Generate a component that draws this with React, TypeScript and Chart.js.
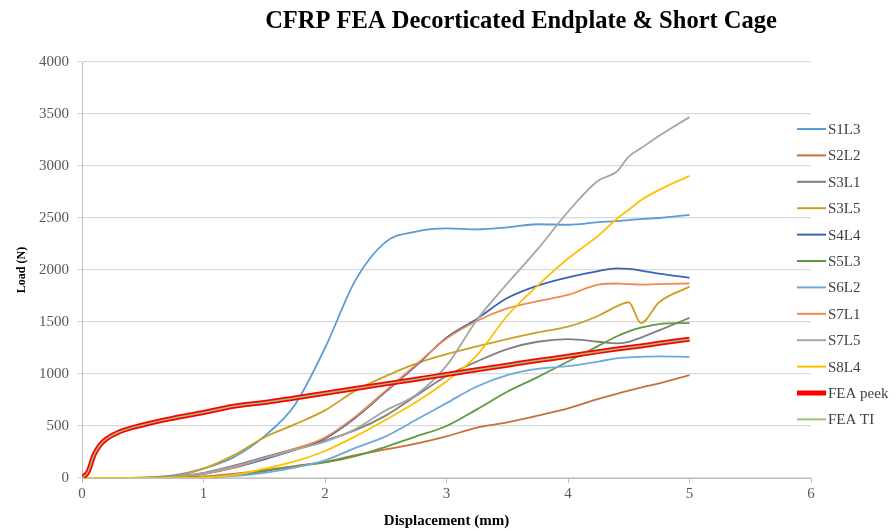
import React, { useEffect, useRef } from "react";
import { Chart, registerables } from "chart.js";
Chart.register(...registerables);

const TITLE = "CFRP FEA Decorticated Endplate & Short Cage";
const X_TITLE = "Displacement (mm)";
const Y_TITLE = "Load (N)";

const displacement = [0, 0.05, 0.1, 0.15, 0.2, 0.3, 0.5, 0.75, 1, 1.25, 1.5, 1.75, 2, 2.25, 2.5, 2.75, 3, 3.25, 3.5, 3.75, 4, 4.25, 4.4, 4.5, 4.6, 4.75, 5];

const seriesNames = ["S1L3", "S2L2", "S3L1", "S3L5", "S4L4", "S5L3", "S6L2", "S7L1", "S7L5", "S8L4", "FEA peek", "FEA TI"];

const s1l3 = [0, 0, 0, 0, 0, 0, 5, 25, 90, 200, 400, 700, 1250, 1900, 2270, 2370, 2400, 2390, 2410, 2440, 2435, 2460, 2470, 2480, 2490, 2500, 2530];
const s2l2 = [0, 0, 0, 0, 0, 0, 0, 5, 15, 40, 75, 115, 155, 220, 275, 330, 400, 485, 535, 600, 670, 760, 810, 840, 870, 910, 990];
const s3l1 = [0, 0, 0, 0, 0, 0, 0, 15, 50, 120, 200, 280, 360, 460, 600, 790, 980, 1120, 1240, 1310, 1335, 1310, 1295, 1310, 1350, 1420, 1540];
const s3l5 = [0, 0, 0, 0, 0, 0, 0, 15, 90, 220, 390, 515, 650, 840, 980, 1100, 1190, 1265, 1335, 1400, 1455, 1560, 1650, 1690, 1490, 1690, 1840];
const s4l4 = [0, 0, 0, 0, 0, 0, 0, 10, 40, 100, 180, 270, 380, 580, 830, 1080, 1350, 1530, 1730, 1850, 1930, 1990, 2015, 2010, 1995, 1965, 1925];
const s5l3 = [0, 0, 0, 0, 0, 0, 0, 2, 10, 30, 65, 110, 150, 210, 300, 400, 500, 660, 830, 970, 1120, 1270, 1360, 1410, 1445, 1480, 1490];
const s6l2 = [0, 0, 0, 0, 0, 0, 0, 0, 5, 20, 50, 100, 170, 290, 400, 560, 720, 880, 990, 1050, 1075, 1120, 1150, 1160, 1165, 1170, 1165];
const s7l1 = [0, 0, 0, 0, 0, 0, 0, 10, 40, 100, 190, 280, 390, 590, 840, 1090, 1340, 1510, 1630, 1700, 1760, 1860, 1870, 1865, 1860, 1865, 1870];
const s7l5 = [0, 0, 0, 0, 0, 0, 0, 10, 45, 110, 190, 270, 350, 470, 650, 800, 1080, 1520, 1870, 2200, 2560, 2860, 2945, 3090, 3170, 3290, 3470];
const s8l4 = [0, 0, 0, 0, 0, 0, 0, 0, 5, 30, 90, 160, 260, 400, 560, 730, 930, 1180, 1560, 1850, 2110, 2330, 2490, 2580, 2670, 2770, 2905];
const feaPeek = [0, 60, 225, 320, 375, 440, 510, 575, 630, 690, 725, 770, 815, 860, 905, 950, 995, 1040, 1085, 1130, 1170, 1215, 1240, 1255, 1270, 1295, 1335];
const feaTi = [0, 60, 225, 320, 375, 440, 510, 575, 630, 690, 725, 770, 815, 860, 905, 950, 995, 1040, 1085, 1130, 1170, 1215, 1240, 1255, 1270, 1295, 1335];

const seriesValues = [s1l3, s2l2, s3l1, s3l5, s4l4, s5l3, s6l2, s7l1, s7l5, s8l4, feaPeek, feaTi];

const yTicks = [0, 500, 1000, 1500, 2000, 2500, 3000, 3500, 4000];
const xTicks = [0, 1, 2, 3, 4, 5, 6];

// styles
const lineColors = ["#5B9BD5", "#C8703A", "#7F7F7F", "#C9A020", "#3A62B0", "#5E9A3F", "#6FA8DC", "#F08A50", "#A5A5A5", "#FFC000", "#FF0000", "#9BC27A"];
const lineWidths = [1.8, 1.8, 1.8, 1.8, 1.8, 1.8, 1.8, 1.8, 1.8, 1.8, 5, 1.5];
const SERIF = '"Liberation Serif", "Times New Roman", serif';

const overlayPlugin = {
  id: "overlay",
  afterDraw(chart: any) {
    const ctx = chart.ctx;
    const area = chart.chartArea;
    ctx.save();
    ctx.fillStyle = "#000";
    ctx.font = `bold 24.5px ${SERIF}`;
    ctx.textAlign = "center";
    ctx.textBaseline = "middle";
    ctx.fillText(TITLE, area.right - 290, 22);

    const x0 = area.right - 14;
    const y0 = area.top + 67;
    const step = 26.4;
    ctx.font = `15px ${SERIF}`;
    ctx.textAlign = "left";
    seriesNames.forEach((name, i) => {
      const y = y0 + i * step;
      ctx.strokeStyle = lineColors[i];
      ctx.lineWidth = i === 10 ? 5 : 2;
      ctx.lineCap = "butt";
      ctx.beginPath();
      ctx.moveTo(x0, y);
      ctx.lineTo(x0 + 29, y);
      ctx.stroke();
      ctx.fillStyle = "#404040";
      ctx.fillText(name, x0 + 31, y + 1);
    });
    ctx.restore();
  },
};

export default function App() {
  const ref = useRef<HTMLCanvasElement | null>(null);
  useEffect(() => {
    if (!ref.current) return;
    const datasets = seriesNames.map((name, i) => ({
      label: name,
      data: displacement.map((x, j) => ({ x, y: seriesValues[i][j] })),
      borderColor: lineColors[i],
      backgroundColor: lineColors[i],
      borderWidth: lineWidths[i],
      pointRadius: 0,
      fill: false,
      cubicInterpolationMode: "monotone" as const,
      order: seriesNames.length - i,
    }));
    const chart = new Chart(ref.current, {
      type: "line",
      data: { datasets },
      options: {
        responsive: true,
        maintainAspectRatio: false,
        animation: false,
        layout: { padding: { top: 62, right: 85, left: 0, bottom: 0 } },
        plugins: {
          legend: { display: false },
          title: { display: false },
          tooltip: { enabled: false },
        },
        scales: {
          x: {
            type: "linear",
            min: xTicks[0],
            max: xTicks[xTicks.length - 1],
            afterBuildTicks: (s: any) => {
              s.ticks = xTicks.map((v) => ({ value: v }));
            },
            ticks: {
              font: { family: SERIF, size: 15 },
              color: "#595959",
              padding: 2,
              callback: (v: any) => String(v),
            },
            grid: { drawOnChartArea: false, drawTicks: true, tickLength: 5, color: "#BFBFBF" },
            border: { color: "#BFBFBF" },
            title: {
              display: true,
              text: X_TITLE,
              color: "#000",
              font: { family: SERIF, size: 15, weight: "bold" },
              padding: { top: 0, bottom: 1 },
            },
            afterFit: (s: any) => {
              s.height = 53;
            },
          },
          y: {
            type: "linear",
            min: yTicks[0],
            max: yTicks[yTicks.length - 1],
            afterBuildTicks: (s: any) => {
              s.ticks = yTicks.map((v) => ({ value: v }));
            },
            ticks: {
              font: { family: SERIF, size: 15 },
              color: "#595959",
              padding: 8,
              callback: (v: any) => String(v),
            },
            grid: { color: "#D9D9D9", tickLength: 5, lineWidth: 1.2 },
            border: { color: "#BFBFBF" },
            title: {
              display: true,
              text: Y_TITLE,
              color: "#000",
              font: { family: SERIF, size: 12, weight: "bold" },
              padding: { top: 15, bottom: 0 },
            },
            afterFit: (s: any) => {
              s.width = 82;
            },
          },
        },
      },
      plugins: [overlayPlugin],
    });
    return () => chart.destroy();
  }, []);
  return (
    <div style={{ position: "fixed", left: 0, top: 0, width: 896, height: 531, background: "#fff" }}>
      <canvas ref={ref} />
    </div>
  );
}
